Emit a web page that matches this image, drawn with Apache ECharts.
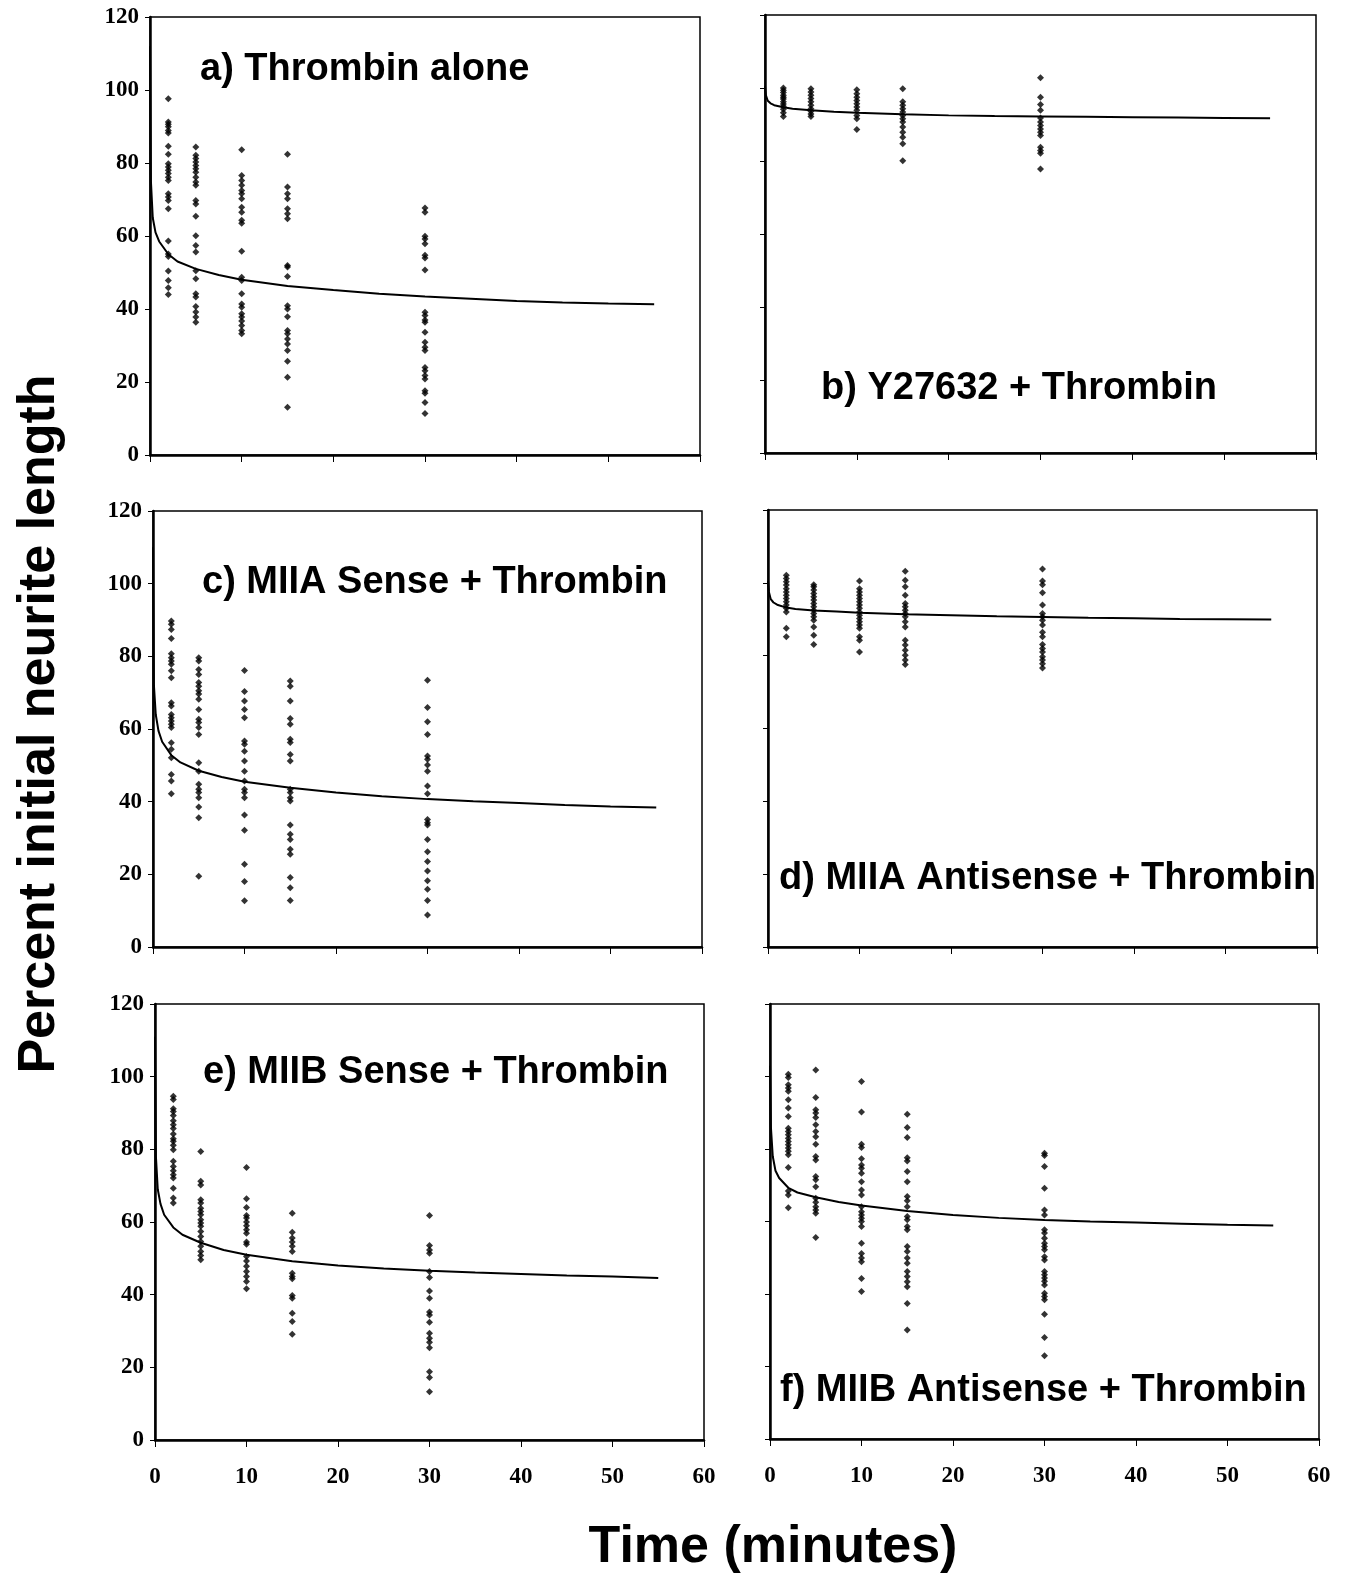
<!DOCTYPE html>
<html lang="en">
<head>
    <meta charset="UTF-8">
    <script src="https://cdn.jsdelivr.net/npm/echarts@6/dist/echarts.min.js"></script>
    <title>Neurite retraction</title>
    <style>
        body { margin: 0; background: #fff; }
    </style>
</head>
<body>
    <div id="main" style="width: 1347px; height: 1575px;"></div>

    <script>
        // sampling times of the scatter columns (minutes)
        var times = [2, 5, 10, 15, 30];

        // one list per time column
        var pointsA = [
            [97.6, 91.2, 90.6, 89.9, 88.9, 88.2, 84.6, 82.4, 79.8, 78.9, 78, 77.1, 76.1, 75.2, 71.6, 70.7, 69.7, 67.5, 58.6, 55.1, 54.4, 50.4, 47.8, 45.8, 44],
            [84.4, 82.1, 81.2, 80.3, 79.3, 78.4, 77.5, 76.1, 74.8, 73.9, 69.7, 68.8, 65.4, 60.1, 57.4, 55.6, 50.5, 48.3, 44.2, 43.3, 40.7, 39.2, 37.8, 36.4],
            [83.6, 76.6, 75.2, 73.9, 72.5, 71.6, 70.2, 67.9, 66.5, 64.3, 63.5, 55.8, 48.7, 47.8, 44.2, 41.4, 40.5, 38.7, 37.8, 36.7, 35.5, 34.1, 33.2],
            [82.4, 73.4, 71.6, 70.2, 67.5, 66.1, 64.7, 51.9, 51.5, 48.9, 40.9, 40, 37.9, 34.1, 33.2, 31.8, 30.4, 28.6, 25.7, 21.3, 13.1],
            [67.7, 66.5, 59.9, 59.2, 57.9, 54.7, 54, 50.7, 39.1, 38.2, 37, 36.4, 33.6, 30.9, 29.5, 28.6, 24, 23.1, 21.8, 20.8, 17.6, 16.9, 14.4, 11.4]
        ];
        var pointsB = [
            [100, 99.4, 98.8, 98, 97.5, 97, 96.2, 95.6, 95, 94.2, 93.2, 92.2],
            [99.8, 98.9, 98, 97.1, 96.2, 95.3, 94.3, 93.6, 92.9, 92.2],
            [99.5, 98.4, 97.5, 96.6, 95.7, 94.8, 93.9, 92.5, 91.6, 88.6],
            [99.8, 96.2, 95.3, 94.3, 93.4, 92.5, 91.6, 90.7, 89.3, 87.9, 86.5, 84.7, 80.1],
            [102.8, 97.5, 95.5, 93.9, 91.8, 90.7, 89.7, 88.8, 87.9, 87, 83.8, 82.9, 82.1, 77.8]
        ];
        var pointsC = [
            [89.7, 88.8, 87.4, 84.9, 80.7, 79.6, 78.7, 77.8, 76, 74.1, 67.2, 66.3, 64, 63.1, 62.2, 61.3, 60.4, 56.2, 54.4, 52.1, 47.5, 45.7, 42.2],
            [79.6, 78.7, 76.4, 75, 72.8, 71.8, 70.5, 69.6, 68.2, 65.4, 62.7, 61.8, 60.4, 58.5, 50.7, 48.4, 44.8, 43.4, 42.5, 41.1, 38.5, 35.6, 19.5],
            [76.1, 70.3, 67.7, 65.4, 63.1, 56.7, 55.8, 53.9, 51.2, 48.4, 45.7, 43.4, 42.5, 41.1, 36.3, 32.1, 22.8, 18, 12.7],
            [73.2, 71.8, 67.7, 62.9, 61.3, 57.2, 56.3, 53, 51.2, 43.4, 42.5, 41.1, 40.2, 33.6, 31, 29.6, 26.9, 25.5, 19.1, 16.3, 12.8],
            [73.4, 65.9, 62, 58.5, 52.6, 51.7, 50.1, 48.4, 44.3, 42.2, 35.1, 34.2, 33.6, 29.6, 26.2, 23.5, 20.9, 18.2, 15.9, 12.8, 8.8]
        ];
        var pointsD = [
            [102.1, 101.2, 100.3, 99.4, 98.4, 97.5, 96.6, 95.7, 94.8, 93.9, 93, 92, 87.5, 85.2],
            [99.5, 98.9, 98, 97.1, 96.2, 95.3, 94.3, 93.4, 92.5, 91.6, 90.7, 89.7, 87.9, 85.6, 83.1],
            [100.5, 98.4, 97.5, 96.6, 95.7, 94.8, 93.9, 93, 92, 91.1, 90.2, 89.3, 88.4, 87.5, 85.2, 84.2, 81],
            [103.2, 100.7, 98.9, 96.6, 94.3, 93.4, 92.5, 91.6, 90.7, 89.3, 87.9, 84.2, 82.9, 81.5, 80.1, 78.8, 77.6],
            [103.8, 100.5, 99.5, 97.3, 93.9, 91.6, 90.7, 89.7, 88.4, 86.4, 85.2, 83.1, 82, 81, 79.7, 78.8, 77.8, 76.6]
        ];
        var pointsE = [
            [94.6, 93.7, 91.2, 90.4, 89.3, 87.9, 86.8, 85.7, 84.2, 82.9, 82.2, 81.1, 79.9, 76.7, 75.3, 74.1, 73, 72.1, 69.3, 66.6, 65.2],
            [79.4, 71.2, 70.2, 66.1, 65.2, 63.8, 62.9, 62, 60.6, 59.7, 58.8, 57.4, 56, 54.6, 53.3, 51.9, 50.8, 49.6],
            [75, 66.4, 64, 61.8, 61.1, 60, 59, 57.9, 56.9, 54.5, 53.9, 50.5, 49.3, 47.8, 46.4, 45, 43.6, 41.6],
            [62.4, 57.2, 55.6, 54.5, 53.3, 51.9, 45.9, 45, 44.4, 39.8, 39, 34.9, 32.6, 29.1],
            [61.8, 53.5, 52.3, 51.4, 46.4, 44.7, 41, 39, 35.2, 34.4, 32.4, 29.4, 28, 26.9, 25.4, 18.8, 17.2, 13.3]
        ];
        var pointsF = [
            [100.6, 99.7, 97.7, 96.8, 95.9, 93.6, 91.3, 89, 85.7, 84.8, 83.9, 83, 82.1, 81.2, 80.3, 79.4, 78.4, 74.9, 68.4, 67.3, 63.8],
            [101.8, 94.2, 90.8, 89.9, 88.7, 86.7, 84.8, 83.4, 81.3, 77.9, 77, 72.4, 71.5, 69.6, 66.4, 65.3, 64.1, 63.2, 62.3, 55.6],
            [98.6, 90.2, 81.3, 80.4, 77.3, 75.6, 74.7, 73.3, 71, 68.7, 67.3, 64.1, 62.7, 61.8, 60.9, 60, 58.6, 54, 51.2, 49.9, 48.9, 44.3, 40.7],
            [89.6, 85.9, 83.2, 77.6, 76.7, 73.8, 71, 66.9, 65.7, 64.1, 61.4, 60.5, 58.6, 57.7, 53.1, 51.7, 49.9, 48.5, 46.2, 44.8, 43.4, 42, 37.4, 30.1],
            [78.8, 78.2, 75.2, 69.2, 63.2, 61.8, 57.7, 56.8, 55.4, 54, 53.1, 52.2, 50.3, 49.4, 46.2, 45.3, 44.4, 43.5, 42.5, 40.2, 39.3, 38.4, 34.4, 28, 23]
        ];

        // fitted curves, read at these times
        var curveTimes = [0, 0.1, 0.3, 0.6, 1, 2, 3, 5, 7.5, 10, 15, 20, 25, 30, 35, 40, 45, 50, 55];
        var curveA = [112, 75, 65, 61, 58.5, 55, 53, 51, 49.3, 48, 46.3, 45.2, 44.2, 43.4, 42.8, 42.2, 41.8, 41.5, 41.3];
        var curveB = [100.5, 98, 96.5, 95.8, 95.3, 94.7, 94.3, 93.9, 93.5, 93.2, 92.8, 92.5, 92.3, 92.2, 92.1, 92, 91.9, 91.8, 91.7];
        var curveC = [110, 72, 64, 59.5, 56.5, 52.8, 50.8, 48.5, 46.8, 45.5, 43.8, 42.5, 41.5, 40.7, 40.1, 39.6, 39.1, 38.7, 38.4];
        var curveD = [100.5, 97.5, 95.5, 94.6, 94, 93.2, 92.8, 92.4, 92.1, 91.8, 91.4, 91.1, 90.8, 90.6, 90.4, 90.3, 90.1, 90, 89.9];
        var curveE = [111, 78, 69, 65, 62, 58.5, 56.5, 54.3, 52.3, 51, 49.2, 48, 47.2, 46.6, 46.1, 45.7, 45.3, 45, 44.6];
        var curveF = [103, 86, 78, 74, 72, 69.3, 68, 66.7, 65.4, 64.4, 62.9, 61.8, 61, 60.4, 60, 59.7, 59.4, 59.1, 58.9];

        var panelTitles = [
            'a) Thrombin alone',
            'b) Y27632 + Thrombin',
            'c) MIIA Sense + Thrombin',
            'd) MIIA Antisense + Thrombin',
            'e) MIIB Sense + Thrombin',
            'f) MIIB Antisense + Thrombin'
        ];
        var xTicks = [0, 10, 20, 30, 40, 50, 60];
        var yTicks = [0, 20, 40, 60, 80, 100, 120];

        var allPoints = [pointsA, pointsB, pointsC, pointsD, pointsE, pointsF];
        var allCurves = [curveA, curveB, curveC, curveD, curveE, curveF];

        // plot boxes in pixels
        var grids = [
            { left: 150, top: 17, width: 550, height: 438 },
            { left: 765, top: 15, width: 551, height: 438 },
            { left: 153, top: 511, width: 549, height: 436 },
            { left: 768, top: 510, width: 549, height: 437 },
            { left: 155, top: 1004, width: 549, height: 436 },
            { left: 770, top: 1004, width: 549, height: 435 }
        ];
        // where each panel label sits (left, middle)
        var titlePos = [[200, 74], [821, 393], [202, 587], [779, 883], [203, 1077], [780, 1395]];

        var chartDom = document.getElementById('main');
        var myChart = echarts.init(chartDom);

        var serifLabel = {
            fontFamily: 'Liberation Serif',
            fontWeight: 'bold',
            fontSize: 23,
            color: '#000'
        };

        var gridList = [], xAxes = [], yAxes = [], series = [], graphics = [];

        grids.forEach(function (g, i) {
            var isLeft = i % 2 === 0;
            var isBottom = i >= 4;
            gridList.push({
                left: g.left, top: g.top, width: g.width, height: g.height,
                show: true, borderColor: '#000', borderWidth: 1.5, backgroundColor: '#fff'
            });
            xAxes.push({
                type: 'value', gridIndex: i, min: xTicks[0], max: xTicks[xTicks.length - 1], interval: 10,
                splitLine: { show: false },
                axisLine: { onZero: false, lineStyle: { color: '#000', width: 2.5 } },
                axisTick: { inside: false, length: 7, lineStyle: { color: '#000', width: 1 } },
                axisLabel: Object.assign({ show: isBottom, margin: 26 }, serifLabel)
            });
            yAxes.push({
                type: 'value', gridIndex: i, min: yTicks[0], max: yTicks[yTicks.length - 1], interval: 20,
                splitLine: { show: false },
                axisLine: { onZero: false, lineStyle: { color: '#000', width: 2.5 } },
                axisTick: { inside: false, length: 5, lineStyle: { color: '#000', width: 1 } },
                axisLabel: Object.assign({ show: isLeft, margin: 11 }, serifLabel)
            });

            var scatterData = [];
            allPoints[i].forEach(function (col, k) {
                col.forEach(function (v) { scatterData.push([times[k], v]); });
            });
            series.push({
                type: 'scatter', xAxisIndex: i, yAxisIndex: i,
                symbol: 'diamond', symbolSize: 7,
                itemStyle: { color: '#000' },
                data: scatterData
            });
            series.push({
                type: 'line', xAxisIndex: i, yAxisIndex: i,
                showSymbol: false, symbol: 'none',
                lineStyle: { color: '#000', width: 2 },
                data: curveTimes.map(function (t, k) { return [t, allCurves[i][k]]; })
            });

            graphics.push({
                type: 'text', left: titlePos[i][0], top: titlePos[i][1] - 23, z: 10,
                style: {
                    text: panelTitles[i],
                    fontFamily: 'Liberation Sans', fontWeight: 'bold', fontSize: 38,
                    fill: '#000'
                }
            });
        });

        // shared axis names
        graphics.push({
            type: 'text', x: 40, y: 724, rotation: Math.PI / 2,
            style: {
                text: 'Percent initial neurite length',
                fontFamily: 'Liberation Sans', fontWeight: 'bold', fontSize: 52,
                fill: '#000', textAlign: 'center', textVerticalAlign: 'middle'
            }
        });
        graphics.push({
            type: 'text', x: 773, y: 1548,
            style: {
                text: 'Time (minutes)',
                fontFamily: 'Liberation Sans', fontWeight: 'bold', fontSize: 52,
                fill: '#000', textAlign: 'center', textVerticalAlign: 'middle'
            }
        });

        var option = {
            backgroundColor: '#fff',
            animation: false,
            grid: gridList,
            xAxis: xAxes,
            yAxis: yAxes,
            series: series,
            graphic: graphics
        };
        myChart.setOption(option);
    </script>
</body>
</html>
